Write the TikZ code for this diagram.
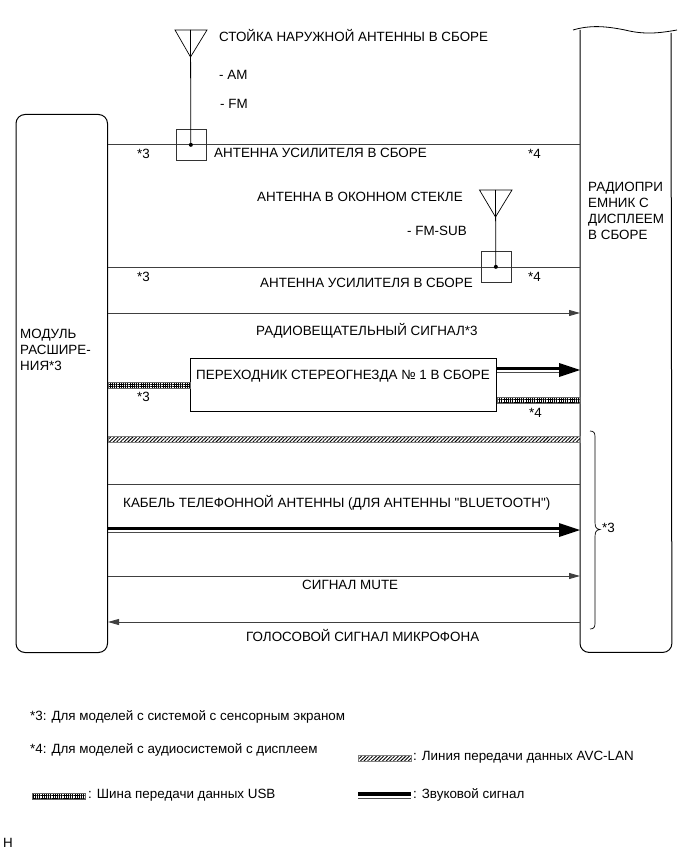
\documentclass[tikz,border=0pt]{standalone}
\usepackage{fontspec}
\setmainfont[Ligatures=TeXOff]{Liberation Sans}
\usetikzlibrary{arrows.meta, patterns.meta}
\tikzset{
  lbl/.style={anchor=west, inner sep=0pt, font=\fontsize{13.4}{16}\selectfont},
  unitbox/.style={anchor=north west, inner sep=0pt, minimum width=91.5pt, minimum height=538pt},
  ampbox/.style={draw=black!80, line width=0.7pt, anchor=north west, inner sep=0pt, minimum width=30pt, minimum height=31pt},
  sigline/.style={line width=0.8pt, black!75},
  sigarrow/.style={sigline, -{Triangle[length=11pt,width=6pt]}},
  usbband/.style={draw=black!60, line width=0.4pt, pattern={Hatch[distance=2.2pt, line width=0.6pt]}},
  avcband/.style={draw=black!50, line width=0.4pt, pattern={Lines[angle=45, distance=2.6pt, line width=0.9pt]}},
  soundbar/.style={line width=3.5pt},
  soundrule/.style={line width=0.9pt, black!70},
  soundhead/.style={line width=0pt, -{Triangle[length=21pt,width=14pt]}},
}
\begin{document}
\begin{tikzpicture}[x=1pt, y=-1pt]
\useasboundingbox (0,0) rectangle (689,853);
% end units
\node[unitbox, draw, line width=1pt, rounded corners=9pt] (mod) at (15.5,114) {};
\node[unitbox, minimum height=622pt] (radio) at (580,30) {};
\draw[line width=1pt, rounded corners=9pt] (radio.north west) -- (radio.south west) -- (radio.south east) -- (671,33);
\draw[line width=0.8pt] (573,30) .. controls (590,25) and (605,26) .. (625,30) .. controls (645,35) and (660,33) .. (677,30);
\node[lbl, align=left, anchor=north west] (modtext) at (20,329) {МОДУЛЬ\\РАСШИРЕ-\\НИЯ*3};
\node[lbl, align=left, anchor=north west] (radiotext) at (588,181.5) {РАДИОПРИ\\ЕМНИК С\\ДИСПЛЕЕМ\\В СБОРЕ};
% first antenna
\draw[sigline] (mod.east |- 0,144.5) -- (radio.west |- 0,144.5);
\node[ampbox] (ampA) at (175.5,129) {};
\draw[line width=0.7pt] (175,30) -- (207,30) -- (190.5,57) -- cycle;
\draw[line width=0.8pt] (190.5,30) -- (ampA.center);
\fill (ampA.center) circle (2pt);
\node[lbl] (standtext) at (219,36) {СТОЙКА НАРУЖНОЙ АНТЕННЫ В СБОРЕ};
\node[lbl] (amtext) at (219,75) {- AM};
\node[lbl] (fmtext) at (220,104) {- FM};
\node[lbl] (ampAtext) at (214,153) {АНТЕННА УСИЛИТЕЛЯ В СБОРЕ};
\node[lbl] (starA) at (137,154) {*3};
\node[lbl] (starB) at (528,154) {*4};
% second antenna
\draw[sigline] (mod.east |- 0,267) -- (radio.west |- 0,267);
\node[ampbox] (ampB) at (480.5,251) {};
\draw[line width=0.7pt] (479.5,190) -- (512,190) -- (495.5,217) -- cycle;
\draw[line width=0.8pt] (495.5,190) -- (ampB.center);
\fill (ampB.center) circle (2pt);
\node[lbl] (glasstext) at (257,197) {АНТЕННА В ОКОННОМ СТЕКЛЕ};
\node[lbl] (subtext) at (407,231) {- FM-SUB};
\node[lbl] (ampBtext) at (260,283) {АНТЕННА УСИЛИТЕЛЯ В СБОРЕ};
\node[lbl] (starC) at (137,277) {*3};
\node[lbl] (starD) at (528,277) {*4};
% broadcast signal
\draw[sigarrow] (mod.east |- 0,313) -- (radio.west |- 0,313);
\node[lbl] (radiosig) at (256,331) {РАДИОВЕЩАТЕЛЬНЫЙ СИГНАЛ*3};
% stereo jack adapter
\node[draw, line width=1pt, anchor=north west, inner sep=0pt, minimum width=306pt, minimum height=53pt] (jack) at (190,358) {};
\node[lbl] (jacktext) at (196,376) {ПЕРЕХОДНИК СТЕРЕОГНЕЗДА № 1 В СБОРЕ};
\path[usbband] (mod.east |- 0,382.5) rectangle (jack.west |- 0,388.5);
\path[usbband] (jack.east |- 0,397.5) rectangle (radio.west |- 0,403.5);
\draw[soundbar] (jack.east |- 0,368.5) -- (561,368.5);
\draw[soundrule] (jack.east |- 0,372.5) -- (561,372.5);
\draw[soundhead] (559,370) -- (radio.west |- 0,370);
\node[lbl] (starE) at (137,397) {*3};
\node[lbl] (starF) at (529,413) {*4};
% lower group
\path[avcband] (mod.east |- 0,436.5) rectangle (radio.west |- 0,442.5);
\draw[sigline] (mod.east |- 0,484.5) -- (radio.west |- 0,484.5);
\node[lbl] (cabletext) at (123,503) {КАБЕЛЬ ТЕЛЕФОННОЙ АНТЕННЫ (ДЛЯ АНТЕННЫ "BLUETOOTH")};
\draw[soundbar] (mod.east |- 0,528.5) -- (561,528.5);
\draw[soundrule] (mod.east |- 0,532.5) -- (561,532.5);
\draw[soundhead] (559,530) -- (radio.west |- 0,530);
\draw[sigarrow] (mod.east |- 0,576) -- (radio.west |- 0,576);
\node[lbl] (mutetext) at (302,585) {СИГНАЛ MUTE};
\draw[sigarrow] (radio.west |- 0,622) -- (mod.east |- 0,622);
\node[lbl] (mictext) at (246,636) {ГОЛОСОВОЙ СИГНАЛ МИКРОФОНА};
% brace
\draw[line width=0.7pt] (590,431) .. controls (594,431) and (595,433) .. (595,437) -- (595,522) .. controls (595,527) and (596,529) .. (600,529.5) .. controls (596,530) and (595,532) .. (595,537) -- (595,623) .. controls (595,627) and (594,629) .. (590,629);
\node[lbl] (starG) at (602,528) {*3};
% notes
\node[lbl] (noteA) at (30,717) {*3: Для моделей с системой с сенсорным экраном};
\node[lbl] (noteB) at (30,750) {*4: Для моделей с аудиосистемой с дисплеем};
% legend
\path[avcband] (358,755) rectangle (411,761);
\node[lbl] (avctext) at (413,757) {: Линия передачи данных AVC-LAN};
\path[usbband] (32,793) rectangle (85,799);
\node[lbl] (usbtext) at (88,795) {: Шина передачи данных USB};
\draw[soundbar] (358,794) -- (411,794);
\draw[soundrule] (358,798) -- (411,798);
\node[lbl] (soundtext) at (413,795) {: Звуковой сигнал};
\node[lbl] (corner) at (3,843) {H};
\end{tikzpicture}
\end{document}
